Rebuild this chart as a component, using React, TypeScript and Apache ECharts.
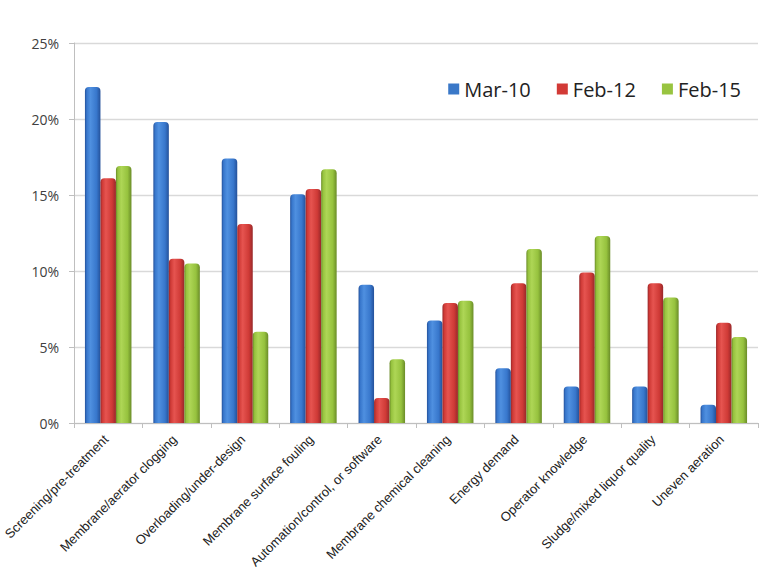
import React, { useEffect, useRef } from "react";
import * as echarts from "echarts";

const categories = [
  "Screening/pre-treatment",
  "Membrane/aerator clogging",
  "Overloading/under-design",
  "Membrane surface fouling",
  "Automation/control, or software",
  "Membrane chemical cleaning",
  "Energy demand",
  "Operator knowledge",
  "Sludge/mixed liquor quality",
  "Uneven aeration",
];
const mar10 = [22.1, 19.8, 17.4, 15.05, 9.1, 6.75, 3.6, 2.4, 2.4, 1.2];
const feb12 = [16.1, 10.8, 13.1, 15.4, 1.65, 7.9, 9.2, 9.9, 9.2, 6.6];
const feb15 = [16.9, 10.5, 6.0, 16.7, 4.2, 8.05, 11.45, 12.3, 8.25, 5.65];
const yTicks = [0, 5, 10, 15, 20, 25];

function grad(dark: string, mid: string, light: string) {
  return new echarts.graphic.LinearGradient(0, 0, 1, 0, [
    { offset: 0, color: dark },
    { offset: 0.12, color: mid },
    { offset: 0.35, color: light },
    { offset: 0.75, color: mid },
    { offset: 1, color: dark },
  ]);
}

export default function App() {
  const ref = useRef<HTMLDivElement>(null);
  useEffect(() => {
    if (!ref.current) return;
    document.body.style.margin = "0";
    const chart = echarts.init(ref.current, undefined, { renderer: "svg" });
    const series = [
      { name: "Mar-10", data: mar10, color: "#3a78c8", g: grad("#24519a", "#3877cc", "#4f90e0") },
      { name: "Feb-12", data: feb12, color: "#d23a36", g: grad("#98282a", "#cf3a36", "#e65450") },
      { name: "Feb-15", data: feb15, color: "#98c440", g: grad("#6a8c28", "#96c23e", "#aed656") },
    ];
    chart.setOption({
      animation: false,
      textStyle: { fontFamily: "Liberation Sans" },
      legend: {
        top: 74,
        right: 22,
        itemWidth: 11,
        itemHeight: 11,
        itemGap: 26,
        icon: "rect",
        textStyle: { fontSize: 20, color: "#222", fontFamily: "Open Sans" },
        data: series.map((s) => ({ name: s.name, itemStyle: { color: s.color } })),
      },
      grid: {
        left: 74,
        right: 10,
        top: 43,
        bottom: 158,
        containLabel: false,
        outerBoundsMode: "none",
      },
      xAxis: {
        type: "category",
        data: categories,
        axisLine: { lineStyle: { color: "#bfbfbf" } },
        axisTick: { show: true, length: 5, lineStyle: { color: "#bfbfbf" } },
        axisLabel: {
          rotate: 45,
          interval: 0,
          fontSize: 13,
          color: "#222",
          margin: 12,
          padding: [0, 3, 0, 0],
          fontFamily: "Liberation Sans",
        },
      },
      yAxis: {
        type: "value",
        min: 0,
        max: 25,
        interval: 5,
        axisLine: { show: true, lineStyle: { color: "#bfbfbf" } },
        axisTick: { show: true, length: 5, lineStyle: { color: "#bfbfbf" } },
        splitLine: { lineStyle: { color: "#d9d9d9", width: 1.3 } },
        axisLabel: {
          formatter: (v: number) => (yTicks.includes(v) ? v + "%" : ""),
          fontSize: 14,
          color: "#404040",
          margin: 15,
          fontFamily: "Open Sans",
        },
      },
      series: series.map((s) => ({
        name: s.name,
        type: "bar",
        data: s.data,
        barGap: "0%",
        barCategoryGap: "32%",
        itemStyle: { color: s.g, borderRadius: [4, 4, 0, 0] },
      })),
    });
    return () => chart.dispose();
  }, []);
  return <div ref={ref} style={{ width: 768, height: 581 }} />;
}
